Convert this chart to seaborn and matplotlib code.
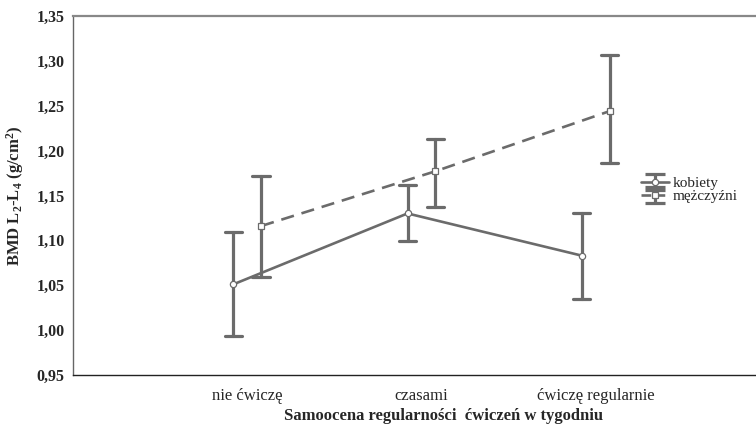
import numpy as np
import pandas as pd
import seaborn as sns
import matplotlib.pyplot as plt
from matplotlib.ticker import FixedLocator, FuncFormatter
from matplotlib.container import ErrorbarContainer
from matplotlib.lines import Line2D
from matplotlib.collections import LineCollection

# --- data: BMD L2-L4 means with interval limits, by exercise regularity ---
categories = ["nie ćwiczę", "czasami", "ćwiczę regularnie"]
groups = ["kobiety", "mężczyźni"]

kobiety_mean = [1.051, 1.130, 1.083]
kobiety_low = [0.994, 1.099, 1.035]
kobiety_high = [1.109, 1.162, 1.130]

mezczyzni_mean = [1.116, 1.177, 1.244]
mezczyzni_low = [1.059, 1.137, 1.186]
mezczyzni_high = [1.172, 1.213, 1.306]

yticks = [0.95, 1.00, 1.05, 1.10, 1.15, 1.20, 1.25, 1.30, 1.35]

# long table: each cell holds (low, mean, high); the median gives the mean,
# the min/max give the interval limits
rows = []
for grp, means, lows, highs in [
    (groups[0], kobiety_mean, kobiety_low, kobiety_high),
    (groups[1], mezczyzni_mean, mezczyzni_low, mezczyzni_high),
]:
    for cat, m, lo, hi in zip(categories, means, lows, highs):
        for v in (lo, m, hi):
            rows.append({"kategoria": cat, "grupa": grp, "BMD": v})
df = pd.DataFrame(rows)

sns.set_style("white")
plt.rcParams["font.family"] = ["Liberation Serif", "DejaVu Serif"]
plt.rcParams["mathtext.fontset"] = "custom"
plt.rcParams["mathtext.rm"] = "Liberation Serif:bold"
plt.rcParams["mathtext.bf"] = "Liberation Serif:bold"
plt.rcParams["mathtext.default"] = "bf"

gray = "#6b6b6b"

fig = plt.figure(figsize=(7.56, 4.25), dpi=100)
ax = fig.add_axes([73 / 756, 1 - 375 / 425, 1 - 73 / 756, (375 - 16) / 425])

sns.pointplot(
    data=df, x="kategoria", y="BMD", hue="grupa",
    order=categories, hue_order=groups,
    estimator="median", errorbar=lambda v: (v.min(), v.max()),
    dodge=0.16, markers=["o", "s"], linestyles=["-", "--"],
    palette=[gray, gray], capsize=0.10,
    err_kws={"linewidth": 2.3},
    linewidth=1.9, markersize=4.5,
    legend=False, ax=ax,
)

for ln in ax.lines:
    mk = ln.get_marker()
    if mk not in (None, "None", "", " "):
        ln.set_markerfacecolor("white")
        ln.set_markeredgecolor(gray)
        ln.set_markeredgewidth(0.9)
        ln.set_zorder(5)
    if ln.get_linestyle() == "--":
        ln.set_dashes((5, 3))

ax.set_xlim(-1.0, 2.92)
ax.set_ylim(0.95, 1.35)
ax.yaxis.set_major_locator(FixedLocator(yticks))
ax.yaxis.set_major_formatter(FuncFormatter(lambda v, p: f"{v:.2f}".replace(".", ",")))

for lab in ax.get_yticklabels():
    lab.set_fontweight("bold")
ax.tick_params(axis="y", labelsize=11.5, length=0, pad=6)
ax.tick_params(axis="x", labelsize=12, direction="in", length=3, width=0.8,
               color="#333333", pad=9)

ax.set_ylabel("BMD L$_2$-L$_4$ (g/cm$^2$)", fontsize=12, fontweight="bold")
ax.yaxis.set_label_coords(-0.069, 0.5)
ax.set_xlabel("Samoocena regularności  ćwiczeń w tygodniu", fontsize=12,
              fontweight="bold")
ax.xaxis.set_label_coords(0.543, -0.093)

ax.spines["right"].set_visible(False)
ax.spines["top"].set_color("#888888")
ax.spines["top"].set_linewidth(1.6)
ax.spines["left"].set_color("#666666")
ax.spines["left"].set_linewidth(1.0)
ax.spines["bottom"].set_color("#222222")
ax.spines["bottom"].set_linewidth(1.0)

# legend entries drawn as error-bar glyphs
def eb_handle(marker, ls):
    data_line = Line2D([], [], color=gray, lw=1.9, ls=ls, marker=marker,
                       mfc="white", mec=gray, mew=0.9, ms=4.5)
    cap = Line2D([], [], color=gray, marker="_", ms=14, mew=2.3, ls="none")
    bar = LineCollection([], colors=gray, linewidths=2.3)
    return ErrorbarContainer((data_line, (cap, cap), (bar,)),
                             has_xerr=False, has_yerr=True)

handles = [eb_handle("o", "-"), eb_handle("s", "--")]
fig.legend(handles, groups, loc="center left",
           bbox_to_anchor=(641 / 756, 1 - 190 / 425), frameon=False,
           fontsize=11, handlelength=1.8, handletextpad=0.3,
           labelspacing=-0.05, borderpad=0, borderaxespad=0)

fig.savefig("out.png", dpi=100)
